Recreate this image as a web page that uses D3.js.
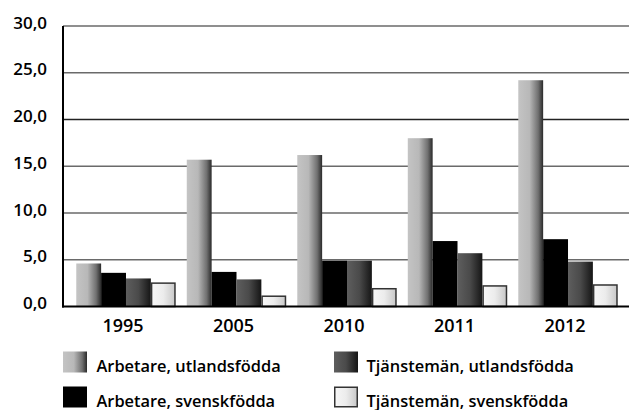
<!DOCTYPE html>
<html><head><meta charset="utf-8">
<script src="https://cdn.jsdelivr.net/npm/d3@7/dist/d3.min.js"></script>
<style>body{margin:0;background:#fff}svg{display:block}text{font-family:"Open Sans",sans-serif;font-weight:600;fill:#000}</style>
</head><body>
<script>
const years = ["1995","2005","2010","2011","2012"];
const seriesNames = ["Arbetare, utlandsfödda","Arbetare, svenskfödda","Tjänstemän, utlandsfödda","Tjänstemän, svenskfödda"];
const arbetareUtland = [4.6,15.7,16.2,18.0,24.2];
const arbetareSvensk = [3.6,3.7,4.9,7.0,7.2];
const tjanstemanUtland = [3.0,2.9,4.9,5.7,4.8];
const tjanstemanSvensk = [2.5,1.1,1.9,2.2,2.3];
const yTicks = [0,5,10,15,20,25,30];
const series = [arbetareUtland, arbetareSvensk, tjanstemanUtland, tjanstemanSvensk];

(function(){
const W=629,H=410;
const svg=d3.select("body").append("svg").attr("width",W).attr("height",H);
const defs=svg.append("defs");
const grads=[
  {id:"g0",stops:[[0,"#c4c4c4"],[0.45,"#b8b8b8"],[0.8,"#707070"],[1,"#2a2a2a"]],stroke:"none"},
  {id:"g1",stops:[[0,"#000"],[1,"#000"]],stroke:"none"},
  {id:"g2",stops:[[0,"#5e5e5e"],[0.5,"#4a4a4a"],[1,"#151515"]],stroke:"none"},
  {id:"g3",stops:[[0,"#f7f7f7"],[0.5,"#ececec"],[1,"#c8c8c8"]],stroke:"#333"}
];
grads.forEach(g=>{
  const lg=defs.append("linearGradient").attr("id",g.id).attr("x1","0").attr("x2","1").attr("y1","0").attr("y2","0");
  g.stops.forEach(s=>lg.append("stop").attr("offset",s[0]).attr("stop-color",s[1]));
});

const pl=63,pr=629,pt=26,pb=306.5;
const y=d3.scaleLinear().domain([0,30]).range([pb,pt]);
const x0=d3.scaleBand().domain(years).range([pl,631]).paddingInner(0.1).paddingOuter(0.12);
const x1=d3.scaleBand().domain(d3.range(4)).range([0,x0.bandwidth()]);
const fmt=d=>d3.format(".1f")(d).replace(".",",");

svg.append("g").selectAll("line").data(yTicks.filter(d=>d>0)).join("line")
  .attr("x1",pl).attr("x2",pr).attr("y1",d=>y(d)).attr("y2",d=>y(d))
  .attr("stroke",d=>d===20?"#222":"#6a6a6a").attr("stroke-width",1.6);

svg.append("g").selectAll("text").data(yTicks).join("text")
  .attr("x",47).attr("y",d=>y(d)+2.5).attr("text-anchor","end")
  .style("font-size","17px").text(fmt);

const gg=svg.append("g").selectAll("g").data(years).join("g")
  .attr("transform",d=>`translate(${x0(d)},0)`);
gg.selectAll("rect").data((d,i)=>series.map((s,k)=>({k,v:s[i]}))).join("rect")
  .attr("x",d=>x1(d.k)+(d.k===3?0.75:0)).attr("width",d=>x1.bandwidth()-(d.k===3?1.5:0))
  .attr("y",d=>y(d.v)).attr("height",d=>pb-y(d.v))
  .attr("fill",d=>`url(#g${d.k})`).attr("stroke",d=>grads[d.k].stroke).attr("stroke-width",1.5);

svg.append("line").attr("x1",pl).attr("x2",pl).attr("y1",pt).attr("y2",pb+1).attr("stroke","#000").attr("stroke-width",2);
svg.append("line").attr("x1",pl-1).attr("x2",pr).attr("y1",pb).attr("y2",pb).attr("stroke","#000").attr("stroke-width",2);

svg.append("g").selectAll("text").data(years).join("text")
  .attr("x",d=>x0(d)+x0.bandwidth()/2-3).attr("y",331.5).attr("text-anchor","middle")
  .style("font-size","18px").text(d=>d);

const legPos=[[63,351.5],[63,386.5],[334,351.5],[334,386.5]];
const lg=svg.append("g").selectAll("g").data([0,1,2,3]).join("g")
  .attr("transform",d=>`translate(${legPos[d][0]},${legPos[d][1]})`);
lg.append("rect").attr("width",d=>d===3?22.5:24).attr("height",d=>d===3?19.5:21)
  .attr("x",d=>d===3?0.75:0).attr("y",d=>d===3?0.75:0)
  .attr("fill",d=>`url(#g${d})`).attr("stroke",d=>grads[d].stroke).attr("stroke-width",1.5);
lg.append("text").attr("x",d=>d>=2?32.5:33.5).attr("y",20).style("font-size","16.4px").text(d=>seriesNames[d]);
})();
</script>
</body></html>
